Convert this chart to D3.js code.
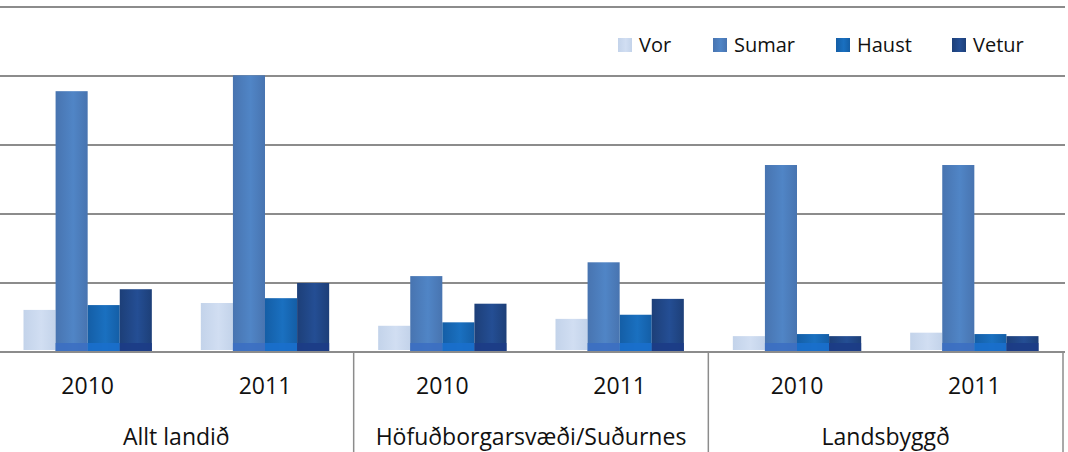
<!DOCTYPE html>
<html>
<head>
<meta charset="utf-8">
<script src="https://cdn.jsdelivr.net/npm/d3@7"></script>
<style>
  html, body { margin: 0; padding: 0; background: #fff; }
  svg { display: block; }
  text { font-family: "Open Sans", "Noto Sans", sans-serif; fill: #111; }
</style>
</head>
<body>
<svg id="chart" width="1068" height="452"></svg>
<script>
// ---- data (unlabelled value axis, one unit per gridline) ----
const regions = ["Allt landið", "Höfuðborgarsvæði/Suðurnes", "Landsbyggð"];
const years = ["2010", "2011"];
const seasons = ["Vor", "Sumar", "Haust", "Vetur"];
const vor   = [0.61, 0.71, 0.38, 0.48, 0.23, 0.28];
const sumar = [3.78, 4.01, 1.10, 1.30, 2.71, 2.71];
const haust = [0.68, 0.78, 0.43, 0.54, 0.26, 0.26];
const vetur = [0.91, 1.00, 0.70, 0.77, 0.23, 0.23];
const yTicks = [0, 1, 2, 3, 4, 5];

const seriesValues = { Vor: vor, Sumar: sumar, Haust: haust, Vetur: vetur };

const svg = d3.select("#chart");
const W = 1068, H = 452;
const plot = { left: -1, right: 1063, top: 7, bottom: 352 };

const colors = {
  Vor:   { dark: "#c3d3ea", light: "#d1def2", base: "#c9d8ef" },
  Sumar: { dark: "#4874b0", light: "#5085c6", base: "#3c6fc2" },
  Haust: { dark: "#145ea6", light: "#1a70c0", base: "#1a6fcc" },
  Vetur: { dark: "#1d3f78", light: "#244e94", base: "#1c3c86" }
};

// gradients
const defs = svg.append("defs");
seasons.forEach(s => {
  const g = defs.append("linearGradient").attr("id", "g-" + s)
    .attr("x1", "0%").attr("x2", "100%").attr("y1", "0%").attr("y2", "0%");
  g.append("stop").attr("offset", "0%").attr("stop-color", colors[s].dark);
  g.append("stop").attr("offset", "55%").attr("stop-color", colors[s].light);
  g.append("stop").attr("offset", "100%").attr("stop-color", colors[s].dark);
});

// scales
const y = d3.scaleLinear().domain([0, 5]).range([plot.bottom, plot.top]);
const xRegion = d3.scaleBand().domain(regions).range([plot.left, plot.right]).padding(0);
const xYear = d3.scaleBand().domain(years).range([0, xRegion.bandwidth()]).padding(0);
const slotPad = 24.5;
const xSeason = d3.scaleBand().domain(seasons)
  .range([slotPad, xYear.bandwidth() - slotPad]).padding(0);

// gridlines
svg.append("g").selectAll("line").data(yTicks).join("line")
  .attr("x1", 0).attr("x2", plot.right + 2)
  .attr("y1", d => y(d)).attr("y2", d => y(d))
  .attr("stroke", "#8c8c8c").attr("stroke-width", 2);

// bars
const cells = [];
regions.forEach((r, ri) => years.forEach((yr, yi) => {
  const idx = ri * years.length + yi;
  seasons.forEach(s => cells.push({ r, yr, s, v: seriesValues[s][idx] }));
}));

const barX = d => xRegion(d.r) + xYear(d.yr) + xSeason(d.s);
const bars = svg.append("g");
bars.selectAll("rect.bar").data(cells).join("rect")
  .attr("class", "bar")
  .attr("x", barX)
  .attr("width", xSeason.bandwidth())
  .attr("y", d => y(d.v))
  .attr("height", d => (d.s === "Vor" ? y(0) - 2 : y(0) - 1) - y(d.v))
  .attr("fill", d => "url(#g-" + d.s + ")");

// base strip on the front series (3D floor edge)
bars.selectAll("rect.base").data(cells.filter(d => d.s !== "Vor")).join("rect")
  .attr("class", "base")
  .attr("x", barX)
  .attr("width", xSeason.bandwidth())
  .attr("y", y(0) - 9)
  .attr("height", 8)
  .attr("fill", d => colors[d.s].base)
  .attr("opacity", 0.9);

// category separators
const seps = regions.map(r => xRegion(r) + xRegion.bandwidth());
svg.append("g").selectAll("line").data(seps).join("line")
  .attr("x1", d => d).attr("x2", d => d)
  .attr("y1", plot.bottom).attr("y2", H)
  .attr("stroke", "#8c8c8c").attr("stroke-width", 1.5);

// year labels
const yearLabels = [];
regions.forEach(r => years.forEach(yr => yearLabels.push({ r, yr })));
svg.append("g").selectAll("text").data(yearLabels).join("text")
  .attr("x", d => xRegion(d.r) + xYear(d.yr) + xYear.bandwidth() / 2)
  .attr("y", 394)
  .attr("text-anchor", "middle")
  .attr("font-size", 23)
  .text(d => d.yr);

// region labels
svg.append("g").selectAll("text").data(regions).join("text")
  .attr("x", d => xRegion(d) + xRegion.bandwidth() / 2)
  .attr("y", 445)
  .attr("text-anchor", "middle")
  .attr("font-size", 23)
  .text(d => d);

// legend
const legendX = [618, 713, 836, 952];
const legend = svg.append("g").selectAll("g").data(seasons).join("g")
  .attr("transform", (d, i) => `translate(${legendX[i]},38)`);
legend.append("rect").attr("width", 14).attr("height", 14)
  .attr("fill", d => "url(#g-" + d + ")");
legend.append("text").attr("x", 21).attr("y", 14)
  .attr("font-size", 20)
  .text(d => d);
</script>
</body>
</html>
